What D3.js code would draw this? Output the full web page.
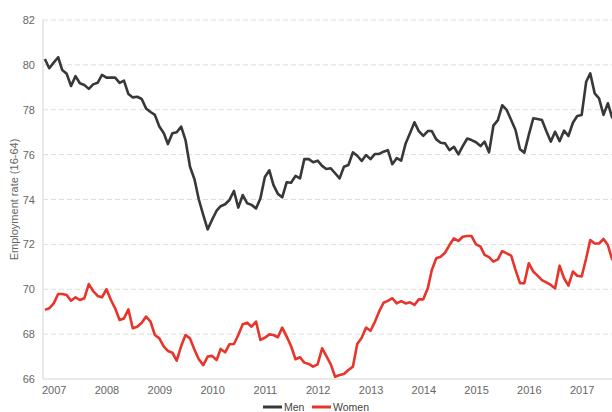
<!DOCTYPE html>
<html>
<head>
<meta charset="utf-8">
<script src="https://cdnjs.cloudflare.com/ajax/libs/d3/7.8.5/d3.min.js"></script>
<style>
    body { margin: 0; background: #fff; }
    text { font-family: "Liberation Sans", Arial, sans-serif; }
</style>
</head>
<body>
<div id="chartContainer"></div>
<script>
// Monthly series, first value is Nov 2006
const startYear = 2006;
const startMonth = 10; // zero-based: November

const menValues = [
    80.26, 79.85, 80.1, 80.34, 79.77, 79.6, 79.06, 79.5, 79.18, 79.1, 78.93, 79.13,
    79.2, 79.55, 79.43, 79.43, 79.43, 79.2, 79.3, 78.7, 78.55, 78.58, 78.48, 78.06,
    77.9, 77.77, 77.25, 76.95, 76.47, 76.95, 77.0, 77.25, 76.65, 75.46, 74.9, 74.0,
    73.3, 72.67, 73.1, 73.5, 73.7, 73.79, 73.98, 74.38, 73.64, 74.2, 73.83, 73.76,
    73.6, 74.05, 75.0, 75.3, 74.65, 74.25, 74.1, 74.77, 74.75, 75.05, 74.94, 75.8,
    75.8, 75.66, 75.73, 75.5, 75.36, 75.39, 75.17, 74.94, 75.46, 75.54, 76.1, 75.95,
    75.72, 75.98, 75.8, 76.03, 76.03, 76.13, 76.2, 75.57, 75.84, 75.73, 76.5, 76.95,
    77.44, 77.05, 76.84, 77.05, 77.05, 76.68, 76.53, 76.5, 76.2, 76.35, 76.01, 76.38,
    76.72, 76.65, 76.55, 76.38, 76.58, 76.1, 77.29, 77.54, 78.2, 77.99, 77.54, 77.1,
    76.24, 76.09, 76.88, 77.62, 77.59, 77.54, 77.05, 76.58, 77.02, 76.6, 77.07, 76.83,
    77.42, 77.72, 77.77, 79.25, 79.62, 78.73, 78.51, 77.77, 78.29, 77.62
];

const womenValues = [
    69.08, 69.15, 69.37, 69.79, 69.79, 69.74, 69.49, 69.64, 69.52, 69.6, 70.23, 69.92,
    69.7, 69.64, 70.0, 69.52, 69.15, 68.63, 68.7, 69.1, 68.26, 68.33, 68.51, 68.78,
    68.56, 67.96, 67.81, 67.44, 67.25, 67.17, 66.82, 67.47, 67.96, 67.81, 67.3, 66.88,
    66.62, 67.0, 67.03, 66.85, 67.34, 67.19, 67.55, 67.56, 67.96, 68.44, 68.51, 68.33,
    68.56, 67.74, 67.84, 67.99, 67.96, 67.86, 68.29, 67.89, 67.47, 66.88, 66.97, 66.73,
    66.67, 66.55, 66.65, 67.37, 67.03, 66.65, 66.1, 66.18, 66.22, 66.4, 66.55, 67.56,
    67.84, 68.29, 68.15, 68.56, 69.0, 69.4, 69.48, 69.6, 69.37, 69.47, 69.37, 69.42,
    69.3, 69.55, 69.55, 70.04, 70.86, 71.38, 71.45, 71.63, 71.97, 72.27, 72.15, 72.34,
    72.37, 72.37, 72.0, 71.9, 71.53, 71.43, 71.23, 71.33, 71.7, 71.6, 71.5, 70.86,
    70.27, 70.27, 71.16, 70.79, 70.61, 70.41, 70.31, 70.19, 70.04, 71.05, 70.49, 70.16,
    70.79, 70.6, 70.57, 71.38, 72.19, 72.04, 72.04, 72.24, 71.97, 71.3
];

const yearTicks = [2007, 2008, 2009, 2010, 2011, 2012, 2013, 2014, 2015, 2016, 2017];
const yTicks = [66, 68, 70, 72, 74, 76, 78, 80, 82];
const seriesNames = ["Men", "Women"];
const seriesColors = ["#383838", "#e8342a"];

function init() {
    const w = 612;
    const h = 412;
    const left = 43;
    const top = 20;
    const bottom = 379;

    const svg = d3.select("#chartContainer").append("svg")
        .attr("width", w)
        .attr("height", h);

    // Build dates for each month
    const dates = menValues.map((v, i) => new Date(startYear, startMonth + i, 1));
    const series = [menValues, womenValues].map((vals, k) => ({
        name: seriesNames[k],
        color: seriesColors[k],
        values: vals.map((v, i) => ({ date: dates[i], value: v }))
    }));

    // Scales (x is pinned on Jan 2007 / Jan 2017 labels, the rest is clipped)
    const x = d3.scaleTime()
        .domain([new Date(2007, 0, 1), new Date(2017, 0, 1)])
        .range([53.7, 581.7]);

    const y = d3.scaleLinear()
        .domain([66, 82])
        .range([bottom, top]);

    // Gridlines
    svg.append("g")
        .selectAll("line")
        .data(yTicks.filter(d => d > 66))
        .enter()
        .append("line")
        .attr("x1", left)
        .attr("x2", w)
        .attr("y1", d => y(d))
        .attr("y2", d => y(d))
        .style("stroke", "#dcdcdc")
        .style("stroke-width", 1)
        .style("stroke-dasharray", "5,3");

    // Y axis labels
    const yAxis = svg.append("g")
        .attr("transform", `translate(${left}, 0)`)
        .call(d3.axisLeft(y).tickValues(yTicks).tickSize(0).tickPadding(8));
    yAxis.select(".domain").remove();
    yAxis.selectAll("text")
        .style("font-size", "11px")
        .style("fill", "#666");

    // Axis lines
    svg.append("line")
        .attr("x1", left).attr("x2", left)
        .attr("y1", top).attr("y2", bottom)
        .style("stroke", "#e2e2e2")
        .style("stroke-width", 1.5);

    svg.append("line")
        .attr("x1", left).attr("x2", w)
        .attr("y1", bottom).attr("y2", bottom)
        .style("stroke", "#e2e2e2")
        .style("stroke-width", 1.5);

    // X axis labels
    const xAxis = svg.append("g")
        .attr("transform", `translate(0, ${bottom})`)
        .call(d3.axisBottom(x)
            .tickValues(yearTicks.map(yr => new Date(yr, 0, 1)))
            .tickFormat(d3.timeFormat("%Y"))
            .tickSize(0)
            .tickPadding(7));
    xAxis.select(".domain").remove();
    xAxis.selectAll("text")
        .style("font-size", "11px")
        .style("fill", "#666");

    // Y axis title
    svg.append("text")
        .attr("transform", `translate(18, ${(top + bottom) / 2}) rotate(-90)`)
        .style("text-anchor", "middle")
        .style("font-size", "11px")
        .style("fill", "#666")
        .text("Employment rate (16-64)");

    // Lines
    const line = d3.line()
        .x(d => x(d.date))
        .y(d => y(d.value));

    svg.selectAll(".series")
        .data(series)
        .enter()
        .append("path")
        .attr("class", "series")
        .attr("d", d => line(d.values))
        .style("fill", "none")
        .style("stroke", d => d.color)
        .style("stroke-width", 2.6)
        .style("stroke-linejoin", "round");

    // Legend at the bottom (kept just inside the frame)
    const legend = svg.append("g")
        .attr("transform", "translate(263, 407)");

    const items = legend.selectAll("g")
        .data(series)
        .enter()
        .append("g")
        .attr("transform", (d, i) => `translate(${i * 49}, 0)`);

    items.append("line")
        .attr("x1", 0).attr("x2", 19)
        .attr("y1", 0).attr("y2", 0)
        .style("stroke", d => d.color)
        .style("stroke-width", 3);

    items.append("text")
        .attr("x", 21)
        .attr("y", 4)
        .style("font-size", "10.5px")
        .style("fill", "#444")
        .text(d => d.name);
}
window.onload = init;
</script>
</body>
</html>
